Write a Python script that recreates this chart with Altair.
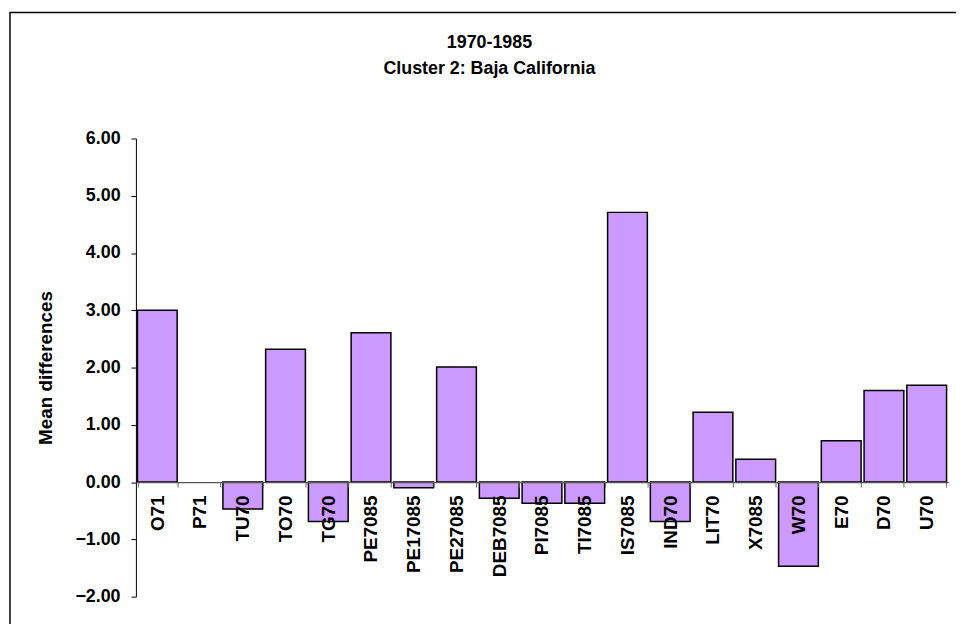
import altair as alt
import pandas as pd

categories = ["O71", "P71", "TU70", "TO70", "TG70", "PE7085", "PE17085", "PE27085",
              "DEB7085", "PI7085", "TI7085", "IS7085", "IND70", "LIT70", "X7085",
              "W70", "E70", "D70", "U70"]
values = [3.00, 0.00, -0.47, 2.32, -0.69, 2.61, -0.10, 2.01,
          -0.28, -0.37, -0.37, 4.71, -0.69, 1.22, 0.40,
          -1.47, 0.72, 1.60, 1.69]
y_ticks = [-2, -1, 0, 1, 2, 3, 4, 5, 6]
title_lines = ["1970-1985", "Cluster 2: Baja California"]
y_title = "Mean differences"

df = pd.DataFrame({"cat": categories, "val": values})

W, H = 819, 462
FONT = "Liberation Sans"
zero_offset = -H * (0 - y_ticks[0]) / (y_ticks[-1] - y_ticks[0])

base = alt.Chart(df)

bars = base.mark_bar(fill="#CC99FF", stroke="black", strokeWidth=1.5).encode(
    x=alt.X("cat:N", sort=categories,
            scale=alt.Scale(paddingInner=0.07, paddingOuter=0.035),
            axis=alt.Axis(title=None, labelAngle=-90, labelFont=FONT, labelFontSize=19,
                          labelFontWeight="bold", labelColor="black", labelPadding=8,
                          tickBand="extent", tickSize=5, tickColor="#666666",
                          domainColor="#555555", domainWidth=1.2,
                          offset=zero_offset, zindex=1, grid=False)),
    y=alt.Y("val:Q",
            scale=alt.Scale(domain=[y_ticks[0], y_ticks[-1]], nice=False, zero=False),
            axis=alt.Axis(title=y_title, values=y_ticks, format=".2f",
                          labelFont=FONT, labelFontSize=18, labelFontWeight="bold",
                          labelColor="black", labelPadding=11,
                          tickSize=5, tickColor="black", domainColor="black",
                          titleFont=FONT, titleFontSize=19, titleFontWeight="bold",
                          titleColor="black", titlePadding=20, grid=False)),
    y2=alt.datum(0),
    strokeOpacity=alt.condition("datum.val == 0", alt.value(0), alt.value(1)),
)

frame = alt.Chart(df).mark_rect(fill=None, stroke="black", strokeWidth=1.5).encode(
    x=alt.value(-127), x2=alt.value(W + 40), y=alt.value(-127), y2=alt.value(H + 60)
).transform_filter("datum.cat == 'O71'")

chart = alt.layer(frame, bars).properties(
    width=W, height=H,
    autosize=alt.AutoSizeParams(type="none"),
    padding={"left": 129, "top": 129, "right": 8, "bottom": 25},
    title=alt.TitleParams(text=title_lines, font=FONT, fontSize=18, fontWeight="bold",
                          color="black", anchor="middle", frame="group", baseline="top",
                          dx=-53, offset=-67, lineHeight=27),
).configure_view(stroke=None)

chart.save("out.html", embed_options={"renderer": "svg", "actions": False})
